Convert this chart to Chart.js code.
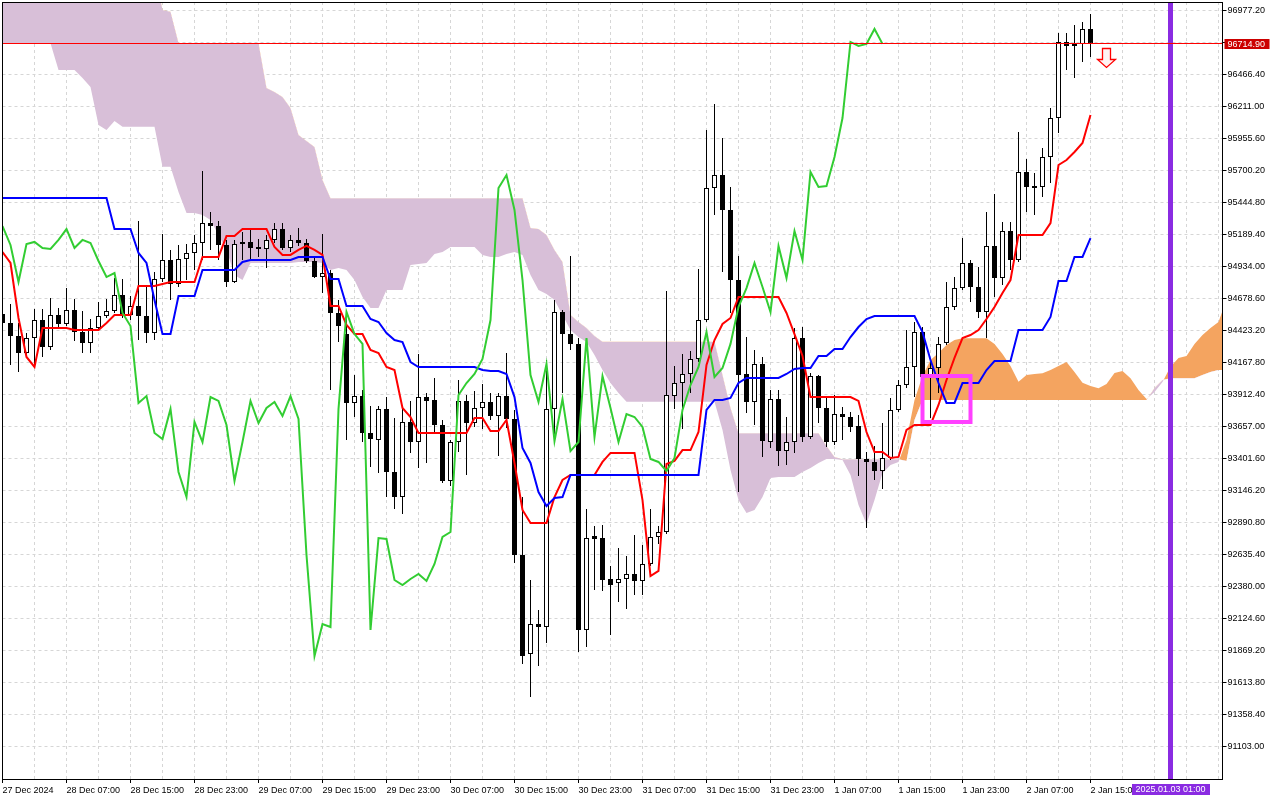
<!DOCTYPE html>
<html><head><meta charset="utf-8">
<script src="https://cdn.jsdelivr.net/npm/chart.js@4.4.1/dist/chart.umd.min.js"></script>
<style>html,body{margin:0;padding:0;background:#fff;overflow:hidden}canvas{display:block}</style>
</head><body>
<canvas id="c" width="1280" height="800"></canvas>
<script>
// ---- H1 candles, bar 0 = 27 Dec 2024 23:00 ----
const opens = [94559,94487,94383,94248,94367,94511,94296,94551,94479,94591,
94415,94327,94447,94543,94583,94711,94551,94623,94543,94407,
94838,94990,94798,94998,95046,95126,95285,95261,95110,94814,
95118,95134,95094,95078,95150,95237,95086,95150,95126,94982,
94854,94886,94567,94399,93849,93904,93609,93553,93801,93298,
93098,93697,93537,93896,93873,93673,93226,93537,93865,93689,
93809,93857,93745,93904,93721,92635,91845,92085,92061,93801,
94575,94399,94320,92037,92787,92771,92444,92412,92444,92484,
92428,92564,92779,92819,93904,94008,94080,94200,94511,95565,
95668,95389,94830,94080,93857,94160,93537,93880,93465,93537,
94367,93577,94064,93809,93537,93761,93737,93665,93402,93378,
93306,93410,93793,93992,94136,94415,94072,94128,94327,94615,
94766,94966,94774,94575,95102,94846,95221,94990,95692,95565,
95573,95812,96123,96730,96698,96714,96834];
const highs = [94623,94639,94487,94407,94599,94599,94687,94607,94766,94679,
94583,94519,94655,94679,94846,94838,94703,95301,94774,94894,
95197,95070,95110,95118,95189,95700,95373,95301,95150,95150,
95213,95229,95158,95189,95285,95285,95189,95245,95158,95014,
95197,94910,94671,94567,94072,93952,93825,93825,93896,93729,
93825,93865,94240,93928,94048,93713,93553,94032,93912,93944,
94000,93928,93928,94248,93793,93098,92436,92196,94192,94671,
94591,95022,94367,93003,92867,92875,92548,92691,92627,92795,
92715,93003,92867,94742,94144,94240,94264,94918,96027,96235,
95964,95573,95022,94375,94272,94216,93952,93952,93737,94447,
94455,94088,94072,93896,93912,93817,93777,93753,93458,93505,
93689,93888,94032,94431,94495,94455,94192,94375,94814,94854,
95165,94990,94934,95373,95517,95293,95293,96011,95796,95684,
95884,96203,96802,96802,96865,96889,96953];
const lows = [94415,94152,94096,94208,94136,94216,94272,94455,94463,94343,
94248,94248,94423,94527,94567,94527,94511,94351,94327,94351,
94814,94671,94774,94830,94910,94990,95070,94990,94774,94806,
94990,94990,95014,94926,95126,95070,95054,95102,94966,94846,
94727,93952,94335,93553,93737,93537,93338,93290,93098,93003,
92963,93450,93330,93370,93617,93210,93186,93458,93274,93657,
93641,93713,93426,93649,92572,91766,91502,91750,91933,93537,
93928,94272,91861,91901,92356,92348,91997,92260,92204,92316,
92316,92548,92723,92803,93801,93641,93928,94176,94495,95349,
94894,94567,93138,93769,93673,93418,93489,93346,93354,93450,
93537,93561,93689,93497,93513,93553,93617,93266,92851,93234,
93162,93394,93777,93968,93896,94032,93729,93928,94311,94591,
94750,94655,94527,94367,94695,94790,94910,94974,95373,95349,
95493,95604,96003,96506,96442,96570,96610];
const closes = [94487,94383,94248,94367,94511,94296,94551,94479,94591,94415,
94327,94447,94543,94583,94711,94551,94623,94543,94407,94838,
94990,94798,94998,95046,95126,95285,95261,95110,94814,95118,
95134,95086,95078,95150,95237,95086,95150,95126,94982,94854,
94886,94567,94463,93849,93904,93609,93561,93801,93298,93098,
93697,93537,93896,93865,93673,93226,93537,93865,93689,93809,
93857,93745,93904,93721,92635,91829,92085,92061,93801,94575,
94399,94320,92037,92771,92763,92436,92396,92444,92484,92428,
92564,92779,92819,93912,94008,94080,94200,94511,95565,95668,
95389,94830,94072,93857,94160,93545,93880,93465,93537,94367,
93577,94064,93809,93537,93761,93737,93657,93402,93378,93306,
93410,93793,93992,94136,94415,94056,94128,94320,94615,94766,
94966,94774,94575,95102,94846,95221,94990,95692,95573,95580,
95812,96123,96730,96698,96714,96834,96714.9];

// ---- Ichimoku lines ----
const tenkan = [95054,94966,94527,94216,94136,94447,94447,94447,94447,94431,
94431,94431,94431,94487,94551,94551,94551,94782,94782,94782,
94798,94814,94814,94814,94814,95014,95014,95014,95181,95181,
95237,95237,95237,95237,95094,95030,95030,95070,95102,95070,
95030,94623,94623,94471,94399,94399,94272,94248,94136,94112,
93809,93737,93609,93609,93609,93609,93609,93609,93609,93729,
93729,93625,93625,93713,93370,92995,92891,92891,92891,93098,
93234,93274,93274,93274,93274,93378,93450,93450,93450,93450,
93074,92468,92508,93362,93386,93473,93473,93617,94152,94351,
94479,94527,94695,94695,94695,94695,94695,94695,94567,94399,
94224,93896,93896,93896,93896,93896,93896,93865,93617,93458,
93458,93410,93418,93633,93673,93673,93673,93833,94032,94208,
94367,94391,94431,94519,94615,94727,94830,95189,95189,95189,
95189,95285,95748,95788,95852,95924,96147];
const kijun = [95485,95485,95485,95485,95485,95485,95485,95485,95485,95485,
95485,95485,95485,95485,95237,95237,95237,95046,94966,94671,
94399,94399,94703,94703,94703,94910,94910,94910,94910,94910,
94974,94990,94990,94990,94990,94990,94990,95014,95014,95014,
95014,94838,94838,94623,94623,94623,94519,94495,94407,94351,
94335,94176,94136,94136,94136,94136,94136,94136,94136,94136,
94112,94104,94104,94080,93896,93489,93370,93138,93026,93090,
93098,93274,93274,93274,93274,93274,93274,93274,93274,93274,
93274,93274,93274,93274,93274,93274,93274,93274,93793,93873,
93873,93889,94008,94048,94048,94048,94048,94048,94080,94120,
94128,94128,94224,94224,94280,94280,94375,94455,94519,94543,
94543,94543,94543,94543,94543,94415,94192,94008,93849,93849,
94008,94008,94008,94112,94184,94184,94184,94431,94431,94431,
94431,94535,94822,94822,95014,95014,95165];
// Senkou spans as plotted (already shifted 26 bars forward), bars 0..153
const spanA = [96719,96719,96719,96719,96719,96719,96719,96506,96506,96506,
96442,96371,96067,96027,96099,96054,96054,96054,96054,96054,
95734,95734,95533,95365,95365,95349,95309,95189,95070,94870,
94830,94966,94966,94966,94966,94966,94966,94974,94974,94974,
94966,94910,94926,94910,94830,94695,94607,94607,94750,94750,
94750,94950,94958,94966,95038,95054,95094,95094,95094,95094,
95030,95014,95014,95038,95054,95030,94870,94750,94718,94671,
94551,94431,94375,94335,94232,94112,94008,93928,93859,93859,
93859,93859,93859,93859,93859,93859,93859,93859,93859,93859,
93633,93314,93074,92971,92995,93098,93250,93258,93258,93258,
93298,93330,93370,93402,93402,93394,93274,93034,92883,93074,
93290,93354,93378,93553,93873,94064,94192,94248,94311,94351,
94365,94365,94365,94365,94320,94240,94144,94019,94072,94080,
94086,94112,94144,94176,94096,94011,93984,93966,94000,94088,
94104,94046,93952,93880,93936,94016,94138,94208,94224,94320,
94391,94447,94495,94671];
const spanB = [97300,97300,97300,97300,97300,97300,97300,97300,97300,97300,
97300,97300,97300,97300,97300,97300,97300,97300,97300,97300,
96985,96972,96722,96719,96719,96719,96719,96719,96719,96719,
96719,96719,96719,96363,96331,96291,96203,95987,95940,95892,
95628,95482,95482,95482,95482,95482,95482,95482,95482,95482,
95482,95482,95482,95482,95482,95482,95482,95482,95482,95482,
95482,95482,95482,95482,95482,95482,95245,95237,95189,95070,
94974,94551,94495,94447,94383,94338,94338,94338,94338,94338,
94338,94338,94338,94338,94338,94338,94338,94338,94338,94338,
94072,93809,93607,93607,93607,93607,93607,93607,93607,93607,
93607,93607,93607,93505,93418,93399,93399,93399,93399,93399,
93399,93399,93399,93386,93713,93873,93873,93873,93873,93873,
93873,93873,93873,93873,93873,93873,93873,93873,93873,93873,
93873,93873,93873,93873,93873,93873,93873,93873,93873,93873,
93873,93873,93873,93873,93968,94032,94046,94046,94046,94046,
94072,94096,94112,94112];

// ---- axes ----
const xTickLabels = ["27 Dec 2024","28 Dec 07:00","28 Dec 15:00","28 Dec 23:00","29 Dec 07:00","29 Dec 15:00",
"29 Dec 23:00","30 Dec 07:00","30 Dec 15:00","30 Dec 23:00","31 Dec 07:00","31 Dec 15:00","31 Dec 23:00",
"1 Jan 07:00","1 Jan 15:00","1 Jan 23:00","2 Jan 07:00","2 Jan 15:00"];
const yTickValues = [96977.2,96721.8,96466.4,96211.0,95955.6,95700.2,95444.8,95189.4,94934.0,94678.6,
94423.2,94167.8,93912.4,93657.0,93401.6,93146.2,92890.8,92635.4,92380.0,92124.6,91869.2,91613.8,91358.4,91103.0];
const yMin = 90847.6, yMax = 97049.03;
const xMin = 0, xMax = 152.5;

// ---- objects on chart ----
const currentPrice = 96714.90;
const futureBar = 146, futureLabel = "2025.01.03 01:00";
const signalArrow = {bar: 138, price: 96682};
const boxAnno = {bar1: 115, bar2: 121, price1: 94064, price2: 93697};

const FONT = '"Liberation Sans", Arial, sans-serif';
const idx = closes.map((c, i) => i);
const pts = arr => arr.map((v, i) => ({x: i, y: v}));
const bodyData = idx.map(i => ({x: i, y: [opens[i], closes[i]]}));
const wickData = idx.map(i => ({x: i, y: [lows[i], highs[i]]}));
const bodyColors = idx.map(i => closes[i] >= opens[i] ? '#ffffff' : '#000000');
const chikou = closes.slice(26).map((v, i) => ({x: i, y: v}));
const gridBars = [];
for (let b = 0; b <= 152; b += 4) gridBars.push(b);
const isLabelBar = v => v % 8 === 0 && v / 8 < xTickLabels.length;

const overlay = {
  id: 'overlay',
  afterDatasetsDraw(chart) {
    const {ctx, chartArea: a, scales: {x, y}} = chart;
    ctx.save();
    ctx.beginPath(); ctx.rect(a.left, a.top, a.right - a.left, a.bottom - a.top); ctx.clip();
    // future vertical line
    const vx = x.getPixelForValue(futureBar);
    ctx.strokeStyle = '#8a2be2'; ctx.lineWidth = 5;
    ctx.beginPath(); ctx.moveTo(vx, a.top); ctx.lineTo(vx, a.bottom); ctx.stroke();
    // rectangle
    const rx1 = x.getPixelForValue(boxAnno.bar1), rx2 = x.getPixelForValue(boxAnno.bar2);
    const ry1 = y.getPixelForValue(boxAnno.price1), ry2 = y.getPixelForValue(boxAnno.price2);
    ctx.strokeStyle = '#ff40ff'; ctx.lineWidth = 4;
    ctx.strokeRect(rx1, ry1, rx2 - rx1, ry2 - ry1);
    // sell arrow
    const ax = x.getPixelForValue(signalArrow.bar);
    const at = Math.round(y.getPixelForValue(signalArrow.price)) + 0.5;
    ctx.beginPath();
    ctx.moveTo(ax - 4, at); ctx.lineTo(ax + 4, at); ctx.lineTo(ax + 4, at + 11);
    ctx.lineTo(ax + 9, at + 11); ctx.lineTo(ax, at + 19); ctx.lineTo(ax - 9, at + 11);
    ctx.lineTo(ax - 4, at + 11); ctx.closePath();
    ctx.fillStyle = '#fff4f4'; ctx.fill();
    ctx.strokeStyle = '#ff0000'; ctx.lineWidth = 1.3; ctx.stroke();
    ctx.restore();
  },
  afterDraw(chart) {
    const {ctx, chartArea: a, scales: {x, y}} = chart;
    ctx.save();
    // current price line (red, solid)
    const py = Math.floor(y.getPixelForValue(currentPrice));
    ctx.fillStyle = 'rgb(255,0,0)';
    ctx.fillRect(a.left, py, a.right - a.left, 1);
    // frame
    ctx.strokeStyle = '#000'; ctx.lineWidth = 1;
    ctx.strokeRect(a.left, a.top + 0.5, a.right - a.left, a.bottom - a.top);
    ctx.font = '9px ' + FONT;
    // current price label
    const ly = Math.round(y.getPixelForValue(currentPrice));
    ctx.fillStyle = '#cc0000';
    ctx.fillRect(a.right + 2, ly - 5, 45, 10);
    ctx.fillStyle = '#ffffff'; ctx.textAlign = 'left'; ctx.textBaseline = 'middle';
    ctx.fillText(currentPrice.toFixed(2), a.right + 5, ly + 0.5);
    // future time label
    const vx = x.getPixelForValue(futureBar);
    const bw = Math.round(ctx.measureText(futureLabel).width + 8);
    ctx.fillStyle = '#8a2be2';
    ctx.fillRect(Math.round(vx - bw / 2), a.bottom + 5, bw, 11);
    ctx.fillStyle = '#ffffff'; ctx.textAlign = 'center';
    ctx.fillText(futureLabel, vx, a.bottom + 11);
    ctx.restore();
  }
};

new Chart(document.getElementById('c'), {
  type: 'bar',
  data: {
    datasets: [
      {type: 'line', label: 'Senkou Span A', data: pts(spanA), borderWidth: 0, pointRadius: 0,
       fill: {target: 1, above: '#f4a460', below: '#d8bfd8'}, order: 10},
      {type: 'line', label: 'Senkou Span B', data: pts(spanB), borderWidth: 0, pointRadius: 0, fill: false, order: 11},
      {type: 'bar', label: 'wicks', data: wickData, backgroundColor: '#000000', borderWidth: 0,
       barThickness: 1, grouped: false, inflateAmount: 0, order: 8},
      {type: 'bar', label: 'bodies', data: bodyData, backgroundColor: bodyColors, borderColor: '#000000',
       borderWidth: 1, borderSkipped: false, barThickness: 5, grouped: false, inflateAmount: 0, order: 7},
      {type: 'line', label: 'Tenkan-sen', data: pts(tenkan), borderColor: '#ff0000', borderWidth: 2, pointRadius: 0, fill: false, order: 3},
      {type: 'line', label: 'Kijun-sen', data: pts(kijun), borderColor: '#0000ff', borderWidth: 2, pointRadius: 0, fill: false, order: 2},
      {type: 'line', label: 'Chikou Span', data: chikou, borderColor: '#32cd32', borderWidth: 2, pointRadius: 0, fill: false, order: 1}
    ]
  },
  options: {
    responsive: false, animation: false, devicePixelRatio: 1, events: [],
    layout: {padding: {left: 2.5, top: 2, right: 0, bottom: 0}},
    plugins: {legend: {display: false}, tooltip: {enabled: false}},
    scales: {
      x: {
        type: 'linear', min: xMin, max: xMax, offset: false, bounds: 'data',
        grid: {color: '#d6d6d6', lineWidth: 1, drawTicks: true, tickLength: 4, offset: false,
               tickColor: c => (c.tick && isLabelBar(c.tick.value)) ? '#000000' : 'rgba(0,0,0,0)'},
        border: {display: false, dash: [3, 3]},
        ticks: {autoSkip: false, maxRotation: 0, minRotation: 0, align: 'start', padding: 2, color: '#000',
                font: {family: FONT, size: 9},
                callback: v => isLabelBar(v) ? xTickLabels[v / 8] : ''},
        afterBuildTicks: s => { s.ticks = gridBars.map(v => ({value: v})); },
        afterFit: s => { s.height = 21; s.paddingLeft = 0; s.paddingRight = 0; }
      },
      y: {
        type: 'linear', position: 'right', min: yMin, max: yMax, bounds: 'data',
        grid: {color: '#d6d6d6', lineWidth: 1, drawTicks: true, tickLength: 4, tickColor: '#000000'},
        border: {display: false, dash: [3, 3]},
        ticks: {padding: 1, color: '#000', font: {family: FONT, size: 9}, callback: v => Number(v).toFixed(2)},
        afterBuildTicks: s => { s.ticks = yTickValues.map(v => ({value: v})); },
        afterFit: s => { s.width = 57.5; s.paddingTop = 0; s.paddingBottom = 0; }
      }
    }
  },
  plugins: [overlay]
});
</script>
</body></html>
